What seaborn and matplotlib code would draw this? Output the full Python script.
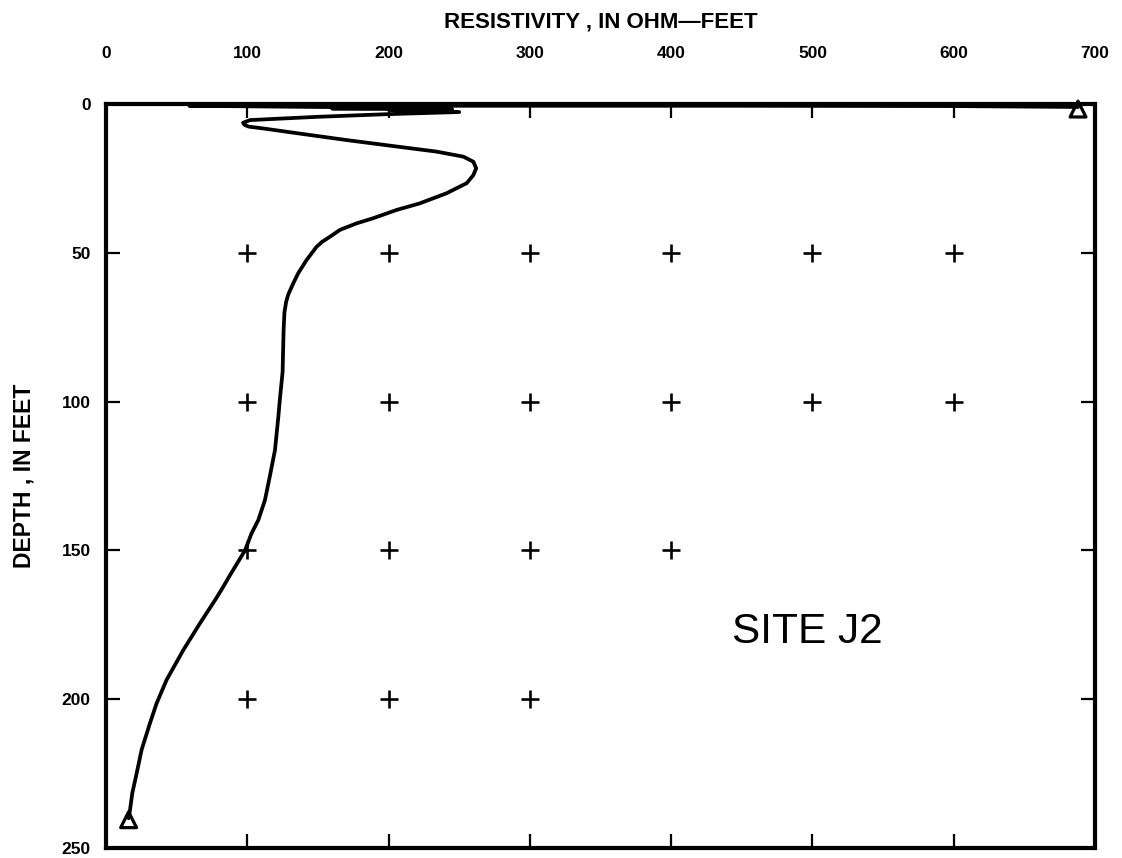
import matplotlib
matplotlib.use("Agg")
import matplotlib.pyplot as plt
import seaborn as sns
import pandas as pd

# Resistivity log (ohm-feet) against depth (feet), in drawing order
resistivity = [688, 600, 450, 300, 250, 59, 150, 240, 160, 245, 200, 250,
               200, 150, 102, 97, 98, 101, 111, 135, 170, 206, 234, 253,
               260, 262, 260, 255.3, 241, 222, 205.7, 189, 177.4, 165.6,
               158.5, 153, 149, 142, 136, 132.6, 129, 127.5, 126.3, 125.7,
               125, 123, 122, 119.6, 116, 112.5, 107.8, 103, 98.4, 87.8, 83,
               78, 66.5, 54.7, 42.9, 35.8, 31.1, 25.2, 21.7, 18.6, 17, 16]
depth = [1.0, 0.7, 0.6, 0.6, 0.6, 0.6, 1.0, 1.3, 1.5, 1.8, 1.9, 2.7,
         3.4, 4.3, 5.4, 6.3, 7.0, 7.6, 8.2, 9.8, 12.1, 14.3, 16.0, 17.7,
         19.4, 21.6, 23.9, 26.6, 30.0, 33.4, 35.6, 38.4, 40.1, 42.3,
         44.6, 46.3, 48.0, 52.4, 56.9, 60.2, 64.0, 66.5, 70.0, 76.0,
         90.0, 99.6, 105.0, 116.3, 125.0, 133.1, 139.8, 144.3, 150.0, 158.3,
         162.2, 166.1, 174.5, 183.5, 193.5, 201.4, 208.1, 217.0, 224.9,
         231.6, 237.2, 240.0]

# End-point symbols of the log
end_resistivity = [688, 16]
end_depth = [1.7, 240.5]

# Reference crosses inside the plotting field
cross_resistivity = ([100, 200, 300, 400, 500, 600] * 2
                     + [100, 200, 300, 400] + [100, 200, 300])
cross_depth = [50] * 6 + [100] * 6 + [150] * 4 + [200] * 3

x_ticks = [0, 100, 200, 300, 400, 500, 600, 700]
y_ticks = [0, 50, 100, 150, 200, 250]

sns.set_style("white")
plt.rcParams["font.family"] = ["Liberation Sans", "DejaVu Sans"]
plt.rcParams["font.weight"] = "bold"
plt.rcParams["text.color"] = "black"
plt.rcParams["axes.labelcolor"] = "black"
plt.rcParams["xtick.color"] = "black"
plt.rcParams["ytick.color"] = "black"

fig = plt.figure(figsize=(11.22, 8.58), dpi=100)
ax = fig.add_axes([106 / 1122, 1 - 848 / 858, 989 / 1122, 744 / 858])

log_df = pd.DataFrame({"res": resistivity, "depth": depth})
sns.lineplot(data=log_df, x="res", y="depth", sort=False, estimator=None,
             color="black", linewidth=2.7, ax=ax)

sns.scatterplot(x=cross_resistivity, y=cross_depth, marker="+", s=170,
                color="black", linewidth=1.9, ax=ax)

sns.scatterplot(x=end_resistivity, y=end_depth, marker="^", s=130,
                facecolor="none", edgecolor="black", linewidth=2.3,
                zorder=5, ax=ax, clip_on=False)

ax.set_xlim(0, 700)
ax.set_ylim(250, 0)
ax.set_xticks(x_ticks)
ax.set_yticks(y_ticks)
ax.set_xticklabels([str(v) for v in x_ticks])
ax.set_yticklabels([str(v) for v in y_ticks])

ax.tick_params(axis="x", top=True, bottom=True, labeltop=True,
               labelbottom=False, direction="in", length=10, width=1.6,
               pad=31, labelsize=12.5, colors="black")
ax.tick_params(axis="y", left=True, right=True, labelleft=True,
               labelright=False, direction="in", length=10, width=1.6,
               pad=11, labelsize=12.5, colors="black")
for lab in ax.get_xticklabels() + ax.get_yticklabels():
    lab.set_fontweight("bold")

ax.xaxis.set_label_position("top")
ax.set_xlabel("RESISTIVITY , IN OHM\u2014FEET", fontsize=16, fontweight="bold",
              labelpad=13, color="black")
ax.set_ylabel("DEPTH , IN FEET", fontsize=16.5, fontweight="bold",
              labelpad=19, color="black")

for side in ["left", "right", "top", "bottom"]:
    ax.spines[side].set_visible(True)
    ax.spines[side].set_color("black")
    ax.spines[side].set_linewidth(3.0)

ax.text(443, 181, "SITE J2", fontsize=30.5, fontweight="normal",
        ha="left", va="baseline", color="black")

fig.savefig("out.png", dpi=100, facecolor="white")
